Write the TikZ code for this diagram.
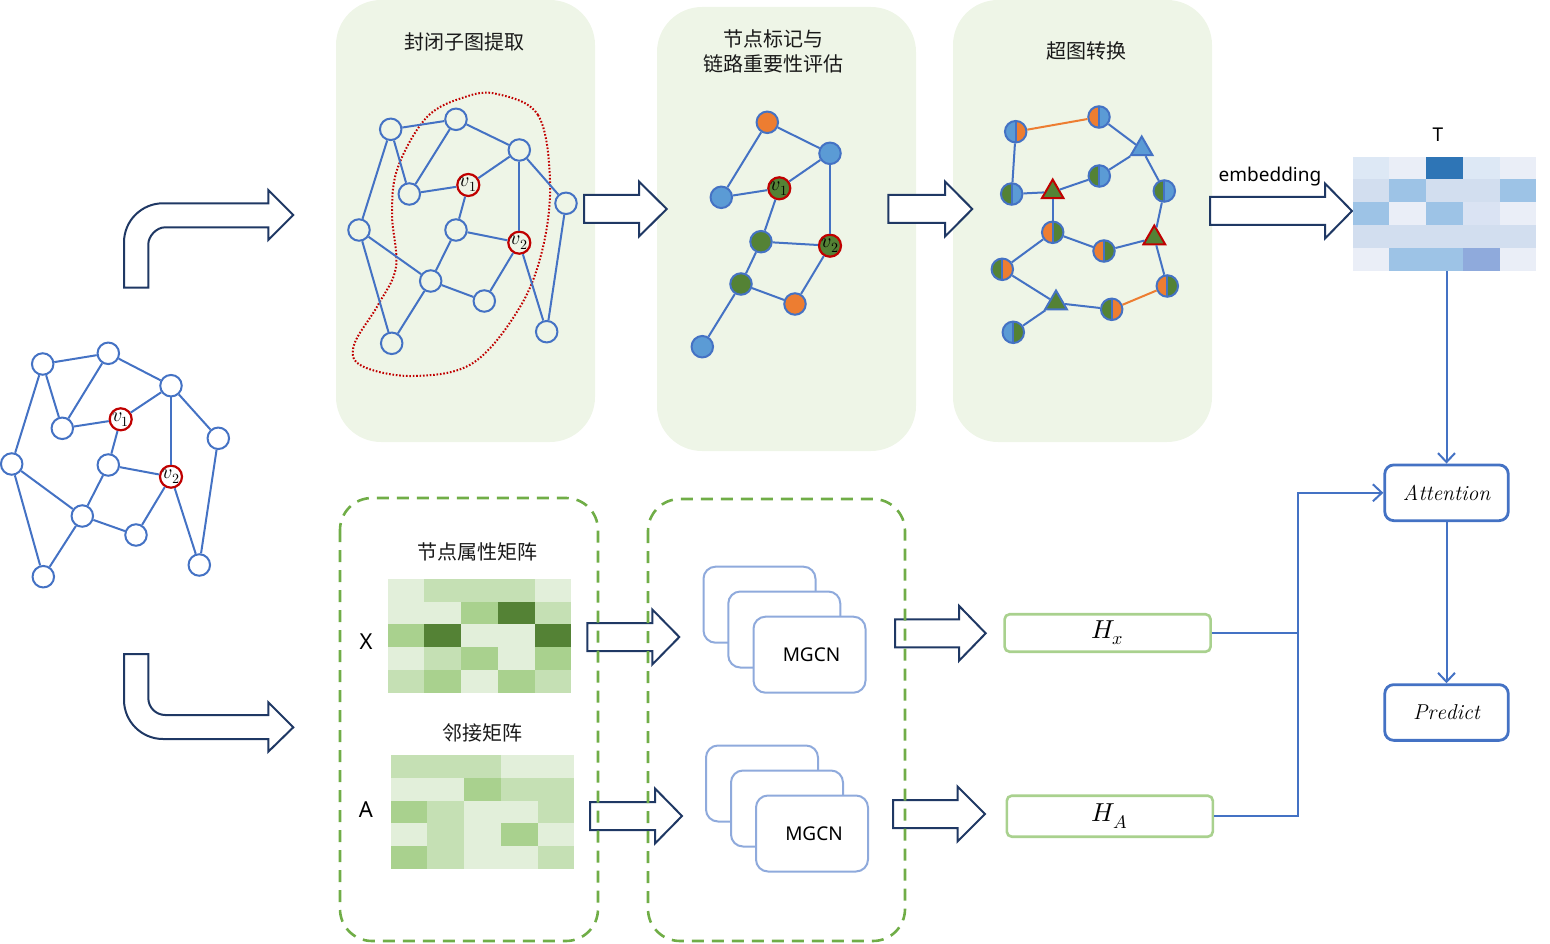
\documentclass[tikz,border=0pt]{standalone}
\usepackage{fontspec}
\usepackage{unicode-math}
\setmathfont{Latin Modern Math}
\newfontfamily\cjkfont{Noto Sans CJK SC}
\newfontfamily\sanslat{Noto Sans}
\usetikzlibrary{shapes.geometric,arrows.meta}
\definecolor{nblue}{HTML}{4472C4}
\definecolor{fblue}{HTML}{5B9BD5}
\definecolor{forange}{HTML}{ED7D31}
\definecolor{fgreen}{HTML}{548235}
\definecolor{vred}{HTML}{C00000}
\definecolor{panelbg}{HTML}{EEF5E7}
\definecolor{dgreen}{HTML}{70AD47}
\definecolor{navy}{HTML}{1F3864}
\definecolor{mgblue}{HTML}{8FAADC}
\definecolor{hgreen}{HTML}{A9D18E}
\definecolor{ga}{HTML}{E2EFDA}
\definecolor{gb}{HTML}{C5E0B4}
\definecolor{gc}{HTML}{A9D18E}
\definecolor{gd}{HTML}{548235}
\definecolor{ba}{HTML}{EAEEF7}
\definecolor{bb}{HTML}{DDE8F5}
\definecolor{bc}{HTML}{D2DEEF}
\definecolor{bd}{HTML}{9DC3E6}
\definecolor{be}{HTML}{2E75B6}
\definecolor{bf}{HTML}{8FAADC}
\definecolor{bg}{HTML}{DAE3F3}
\newcommand{\blkarr}[4]{\draw[blk] ({#1},{#4-14}) -- ({#2},{#4-14}) -- ({#2},{#4-27.5}) -- ({#3},{#4}) -- ({#2},{#4+27.5}) -- ({#2},{#4+14}) -- ({#1},{#4+14}) -- cycle;}
\begin{document}
\begin{tikzpicture}[x=1pt,y=-1pt,
  gn/.style={circle,draw=nblue,line width=2pt,minimum size=21.5pt,inner sep=0pt},
  vn/.style={gn,draw=vred,line width=2.2pt,font=\fontsize{20}{20}\selectfont},
  edge/.style={draw=nblue,line width=2pt},
  oedge/.style={draw=forange,line width=2pt},
  hc/.style 2 args={gn,path picture={
     \fill[#1] (path picture bounding box.south west) rectangle (path picture bounding box.north);
     \fill[#2] (path picture bounding box.south) rectangle (path picture bounding box.north east);
     \draw[nblue,line width=1.8pt] (path picture bounding box.south) -- (path picture bounding box.north);}},
  tri/.style={regular polygon,regular polygon sides=3,minimum size=25pt,inner sep=0pt,line width=2pt},
  blk/.style={draw=navy,line width=2pt,fill=white,line join=miter},
  panel/.style={fill=panelbg,rounded corners=45pt},
  dbox/.style={draw=dgreen,line width=2.6pt,dash pattern=on 12pt off 8pt,rounded corners=32pt},
  mg/.style={draw=mgblue,line width=2pt,rounded corners=12pt,fill=white,minimum width=112pt,minimum height=76pt},
  hbox/.style={draw=hgreen,line width=2.6pt,rounded corners=5pt,fill=white,minimum width=206pt,font=\fontsize{26}{26}\selectfont},
  abox/.style={draw=nblue,line width=2.8pt,rounded corners=9pt,fill=white,minimum width=123.5pt,minimum height=55.7pt,font=\fontsize{21.5}{21.5}\selectfont},
  conn/.style={draw=nblue,line width=2pt,-{Straight Barb[length=9pt,width=17pt]}},
  ttl/.style={font=\cjkfont\fontsize{20}{25}\selectfont,text=black!90,align=center},
  lab/.style={font=\sanslat\fontsize{22}{22}\selectfont}
]
\useasboundingbox (0,0) rectangle (1550,944);

% panels
\fill[panel] (336,0) rectangle (595,442);
\fill[panel] (657,7) rectangle (916,451);
\fill[panel] (953,0) rectangle (1212,442);
\node[ttl] (t1) at (464,42) {封闭子图提取};
\node[ttl] (t2) at (773,51) {节点标记与\\链路重要性评估};
\node[ttl] (t3) at (1086,51) {超图转换};

% left graph
\foreach \n/\x/\y in {l1/42.7/364,l2/108.3/353.3,l3/171/385.7,l4/62.3/428.3,l5/218.3/438.3,l6/11.7/464,l7/108.3/465,l8/82.3/516,l9/136/535,l10/199.3/565,l11/43.3/576.7}
  \node[gn] (\n) at (\x,\y) {};
\node[vn] (lv1) at (120.7,419.3) {$v_1$};
\node[vn] (lv2) at (171,476.7) {$v_2$};
\foreach \a/\b in {l1/l2,l1/l4,l1/l6,l2/l4,l2/l3,l3/lv1,l3/lv2,l3/l5,l4/lv1,lv1/l7,l7/lv2,l7/l8,l6/l8,l6/l11,l8/l11,l8/l9,l9/lv2,lv2/l10,l5/l10}
  \draw[edge] (\a) -- (\b);

% panel 1 graph
\draw[vred,line width=2pt,dash pattern=on 1.6pt off 1.8pt] plot[smooth cycle,tension=0.6] coordinates {(497,94) (538,115) (550,180) (543,247) (520,307) (473,363) (413,376) (362,366) (354,345) (378,305) (396,267) (392,213) (398,167) (427,117) (465,97)};
\foreach \n/\x/\y in {n1/390.7/129.3,n2/456/119.3,n3/519.3/150,n4/409.3/194,n5/566/203.3,n6/359/230,n7/456/230,n8/430.7/281,n9/484.3/301,n10/546.7/331.7,n11/391.7/343.3}
  \node[gn] (\n) at (\x,\y) {};
\node[vn] (nv1) at (468.3,185) {$v_1$};
\node[vn] (nv2) at (519.3,242.7) {$v_2$};
\foreach \a/\b in {n1/n2,n1/n4,n1/n6,n2/n4,n2/n3,n3/nv1,n3/nv2,n3/n5,n4/nv1,nv1/n7,n7/nv2,n7/n8,n6/n8,n6/n11,n8/n11,n8/n9,n9/nv2,nv2/n10,n5/n10}
  \draw[edge] (\a) -- (\b);

% panel 2 graph
\node[gn,fill=forange] (pa) at (767.3,122.3) {};
\node[gn,fill=fblue] (pb) at (830,153.3) {};
\node[gn,fill=fblue] (pc) at (721.3,197.3) {};
\node[vn,fill=fgreen] (pv1) at (779.3,188.3) {$v_1$};
\node[gn,fill=fgreen] (pd) at (761,241.7) {};
\node[vn,fill=fgreen] (pv2) at (830,245.7) {$v_2$};
\node[gn,fill=fgreen] (pe) at (741,284) {};
\node[gn,fill=forange] (pf) at (795,304) {};
\node[gn,fill=fblue] (pg) at (702.3,346.7) {};
\foreach \a/\b in {pa/pb,pa/pc,pc/pv1,pv1/pb,pb/pv2,pv1/pd,pd/pv2,pd/pe,pe/pf,pf/pv2,pe/pg}
  \draw[edge] (\a) -- (\b);

% panel 3 hypergraph
\node[hc={fblue}{forange}] (h1) at (1015.7,131.7) {};
\node[hc={forange}{fblue}] (h2) at (1099,117) {};
\node[tri,fill=fblue,draw=nblue] (q1) at (1141.7,149) {};
\node[hc={fgreen}{fblue}] (h3) at (1011.7,194) {};
\node[tri,fill=fgreen,draw=vred] (q2) at (1052.7,192) {};
\node[hc={fgreen}{fblue}] (h4) at (1099.3,176) {};
\node[hc={fgreen}{fblue}] (h5) at (1164.3,191) {};
\node[hc={forange}{fgreen}] (h6) at (1052.7,232.3) {};
\node[hc={forange}{fgreen}] (h7) at (1104,251) {};
\node[tri,fill=fgreen,draw=vred] (q3) at (1154.3,238) {};
\node[hc={fgreen}{forange}] (h8) at (1002.3,269.3) {};
\node[hc={forange}{fgreen}] (h9) at (1167.3,286) {};
\node[tri,fill=fgreen,draw=nblue] (q4) at (1056,303) {};
\node[hc={fgreen}{forange}] (h10) at (1111.7,309.3) {};
\node[hc={fblue}{fgreen}] (h11) at (1013.3,332.3) {};
\draw[oedge] (h1) -- (h2);
\draw[oedge] (h10) -- (h9);
\foreach \a/\b in {h2/q1,h1/h3,h3/q2,q2/h4,h4/q1,q1/h5,h5/q3,q2/h6,h6/h7,h7/q3,h6/h8,q3/h9,h8/q4,q4/h10,q4/h11}
  \draw[edge] (\a) -- (\b);

% bent arrows
\draw[blk] (124,287.7) -- (124,242.3) .. controls (124,220.8) and (141.5,203.3) .. (163,203.3) -- (268.3,203.3) -- (268.3,190) -- (293.3,215) -- (268.3,240) -- (268.3,227.3) -- (165.3,227.3) .. controls (155.9,227.3) and (148.3,236.7) .. (148.3,244.3) -- (148.3,287.7) -- cycle;
\draw[blk] (124,654) -- (148.3,654) -- (148.3,698) .. controls (148.3,707.4) and (155.9,715) .. (165.3,715) -- (268.3,715) -- (268.3,702.3) -- (293.3,727.3) -- (268.3,751.7) -- (268.3,739) -- (163,739) .. controls (141.5,739) and (124,721.5) .. (124,700) -- cycle;

% straight block arrows
\blkarr{584}{639}{666.7}{209}
\blkarr{888.3}{945}{972.3}{209}
\blkarr{1210}{1325}{1352}{211}
\blkarr{587.3}{652.3}{679.3}{637}
\blkarr{895}{959}{985.7}{633.3}
\blkarr{590}{655}{682}{816}
\blkarr{893}{957.5}{985}{814}
\node[font=\sanslat\fontsize{19}{19}\selectfont] (emb) at (1270,177) {embedding};

% matrix T
\foreach \row [count=\r from 0] in {{bb,ba,be,bb,ba},{bc,bd,bc,bc,bd},{bd,ba,bd,bg,ba},{bc,bc,bc,bc,bc},{ba,bd,bd,bf,ba}}
  \foreach \c [count=\k from 0] in \row
    \fill[\c] ({1352.7+\k*36.7},{156.7+\r*22.8}) rectangle ++(36.9,23);
\node[inner sep=0pt,minimum width=183.5pt,minimum height=114pt,anchor=north west] (tm) at (1352.7,156.7) {};
\node[font=\sanslat\fontsize{19}{19}\selectfont] (tl) at (1438,135) {T};

% matrix X
\node[ttl] (xt) at (477.7,551.7) {节点属性矩阵};
\foreach \row [count=\r from 0] in {{ga,gb,gb,gb,ga},{ga,ga,gc,gd,gb},{gc,gd,ga,ga,gd},{ga,gb,gc,ga,gc},{gb,gc,ga,gc,gb}}
  \foreach \c [count=\k from 0] in \row
    \fill[\c] ({387.7+\k*36.7},{579+\r*22.7}) rectangle ++(36.9,22.9);
\node[lab] (xl) at (366,641.7) {X};

% matrix A
\node[ttl] (at) at (482.3,732.7) {邻接矩阵};
\foreach \row [count=\r from 0] in {{gb,gb,gb,ga,ga},{ga,ga,gc,gb,gb},{gc,gb,ga,ga,gb},{ga,gb,ga,gc,ga},{gc,gb,ga,ga,gb}}
  \foreach \c [count=\k from 0] in \row
    \fill[\c] ({390.7+\k*36.7},{755+\r*22.8}) rectangle ++(36.9,23);
\node[lab] (al) at (366,810) {A};

% MGCN stacks
\node[mg] (m1) at (759.5,604.7) {};
\node[mg] (m2) at (784.3,629.5) {};
\node[mg,font=\sanslat\fontsize{19}{19}\selectfont] (m3) at (809.5,654.7) {\hspace*{4pt}MGCN};
\node[mg] (m4) at (762,783.5) {};
\node[mg] (m5) at (787,808.5) {};
\node[mg,font=\sanslat\fontsize{19}{19}\selectfont] (m6) at (812,833.5) {\hspace*{4pt}MGCN};

% dashed boxes
\draw[dbox] (340,498) rectangle (598,941);
\draw[dbox] (648,499) rectangle (905,941);

% H boxes and attention
\node[hbox,minimum height=37.5pt] (hx) at (1107.6,633) {$H_x$};
\node[hbox,minimum height=41pt] (ha) at (1109.8,816.2) {$H_A$};
\node[abox] (att) at (1446.5,492.8) {$\mathit{Attention}$};
\node[abox] (pred) at (1446.5,712.5) {$\mathit{Predict}$};
\coordinate (j) at (1298,633);
\draw[conn] (hx.east) -- (j) |- (att.west);
\draw[edge] (ha.east) -| (j);
\draw[conn] (tm.south -| att.north) -- (att.north);
\draw[conn] (att.south) -- (pred.north);
\end{tikzpicture}
\end{document}
